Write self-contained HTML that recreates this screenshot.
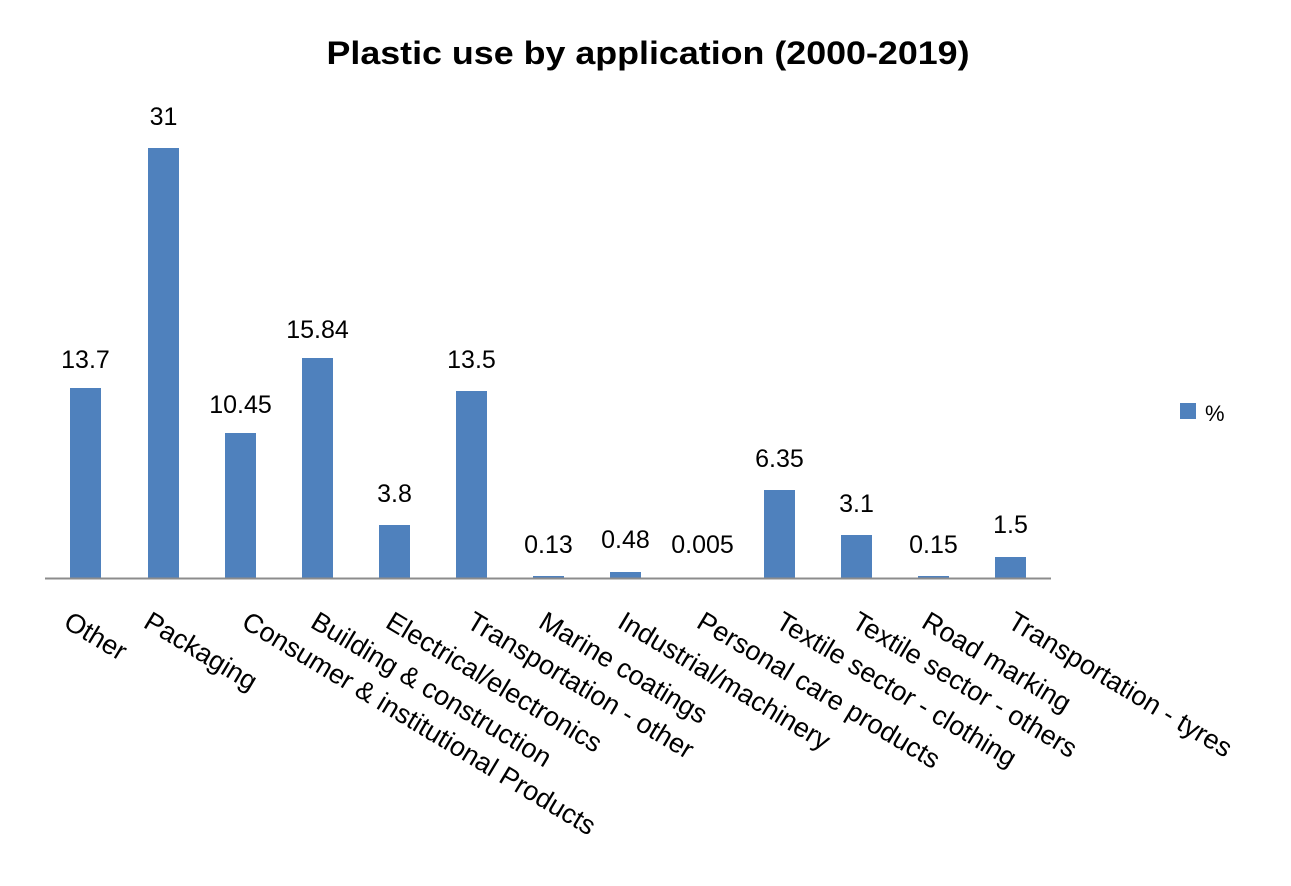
<!DOCTYPE html>
<html><head><meta charset="utf-8"><style>html,body{margin:0;padding:0;background:#fff}svg{display:block}</style></head>
<body>
<svg width="1291" height="886" viewBox="0 0 1291 886" xmlns="http://www.w3.org/2000/svg" font-family="Liberation Sans, Arial, sans-serif">
<rect width="1291" height="886" fill="#fff"/>
<text x="648" y="64" text-anchor="middle" font-size="32" font-weight="bold" textLength="643" lengthAdjust="spacingAndGlyphs" fill="#000">Plastic use by application (2000-2019)</text>
<g fill="#4F81BD">
<rect x="70" y="388" width="31" height="190"/>
<rect x="148" y="148" width="31" height="430"/>
<rect x="225" y="433" width="31" height="145"/>
<rect x="302" y="358" width="31" height="220"/>
<rect x="379" y="525" width="31" height="53"/>
<rect x="456" y="391" width="31" height="187"/>
<rect x="533" y="576" width="31" height="2"/>
<rect x="610" y="572" width="31" height="6"/>
<rect x="764" y="490" width="31" height="88"/>
<rect x="841" y="535" width="31" height="43"/>
<rect x="918" y="576" width="31" height="2"/>
<rect x="995" y="557" width="31" height="21"/>
</g>
<line x1="45" y1="578.5" x2="1051" y2="578.5" stroke="#8c8c8c" stroke-width="2"/>
<g font-size="25" text-anchor="middle" fill="#000">
<text x="85.5" y="368">13.7</text>
<text x="163.5" y="125">31</text>
<text x="240.5" y="413">10.45</text>
<text x="317.5" y="338">15.84</text>
<text x="394.5" y="502">3.8</text>
<text x="471.5" y="368">13.5</text>
<text x="548.5" y="553">0.13</text>
<text x="625.5" y="548">0.48</text>
<text x="702.5" y="553">0.005</text>
<text x="779.5" y="467">6.35</text>
<text x="856.5" y="512">3.1</text>
<text x="933.5" y="553">0.15</text>
<text x="1010.5" y="533">1.5</text>
</g>
<g font-size="27" fill="#000" dominant-baseline="hanging">
<text transform="translate(72,610) rotate(31)">Other</text>
<text transform="translate(152,610) rotate(31)">Packaging</text>
<text transform="translate(250,610) rotate(31)">Consumer &amp; institutional Products</text>
<text transform="translate(319,610) rotate(31)">Building &amp; construction</text>
<text transform="translate(394,610) rotate(31)">Electrical/electronics</text>
<text transform="translate(475,610) rotate(31)">Transportation - other</text>
<text transform="translate(547,610) rotate(31)">Marine coatings</text>
<text transform="translate(626,610) rotate(31)">Industrial/machinery</text>
<text transform="translate(705,610) rotate(31)">Personal care products</text>
<text transform="translate(784,610) rotate(31)">Textile sector - clothing</text>
<text transform="translate(860,610) rotate(31)">Textile sector - others</text>
<text transform="translate(930,610) rotate(31)">Road marking</text>
<text transform="translate(1016,610) rotate(31)">Transportation - tyres</text>
</g>
<rect x="1180" y="403" width="16" height="16" fill="#4F81BD"/>
<text x="1205" y="421" font-size="22" fill="#000">%</text>
</svg>
</body></html>
